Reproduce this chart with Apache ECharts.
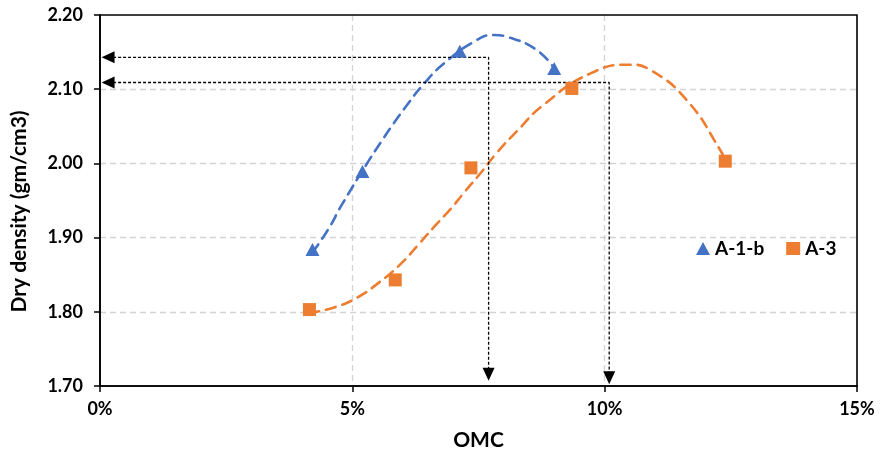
<!DOCTYPE html>
<html>
<head>
<meta charset="utf-8">
<script src="https://cdn.jsdelivr.net/npm/echarts@6/dist/echarts.min.js"></script>
<style>
html,body{margin:0;padding:0;background:#fff;}
#c{width:882px;height:458px;}
</style>
</head>
<body>
<div id="c"></div>
<script>
// ---- data ----
const seriesNames = ['A-1-b', 'A-3'];
// A-1-b measured points (OMC in %, dry density gm/cm3)
const omcA1b = [4.21, 5.20, 7.13, 9.00];
const densA1b = [1.884, 1.989, 2.151, 2.128];
// A-3 measured points
const omcA3 = [4.15, 5.85, 7.35, 9.35, 12.39];
const densA3 = [1.803, 1.843, 1.994, 2.101, 2.003];
// trend curves
const trendA1bX = [4.21, 4.53, 4.79, 5.32, 5.56, 5.83, 6.11, 6.39, 6.82, 7.46, 7.80, 8.09, 8.65, 9.00];
const trendA1bY = [1.880, 1.912, 1.944, 2.003, 2.028, 2.055, 2.081, 2.105, 2.135, 2.166, 2.173, 2.170, 2.153, 2.128];
const trendA3X = [4.15, 4.69, 5.09, 5.52, 5.95, 6.34, 6.64, 6.94, 7.23, 7.53, 7.86, 8.27, 8.79, 9.71, 10.50, 10.90, 11.63, 12.29, 12.39];
const trendA3Y = [1.798, 1.807, 1.819, 1.839, 1.864, 1.893, 1.916, 1.938, 1.962, 1.986, 2.014, 2.044, 2.079, 2.121, 2.133, 2.126, 2.085, 2.018, 2.003];
// optimum moisture content / max dry density read-offs (arrows)
const optOMC = [7.70, 10.09];
const maxDens = [2.143, 2.109];
const arrowLeftX = 0.16;           // OMC where the left-pointing arrowheads sit
const arrowDownY = [1.716, 1.711]; // density where the down-pointing arrowheads sit
// axis ticks
const xTicks = {min: 0, max: 15, step: 5};
const yTicks = {min: 1.70, max: 2.20, step: 0.10};

const pairs = (xs, ys) => xs.map((x, i) => [x, ys[i]]);

const FONT = 'Lato';
const blue = '#4472C4';
const orange = '#ED7D31';

const annoSeries = [];
optOMC.forEach((x, i) => {
  annoSeries.push({
    type: 'line',
    name: 'guide' + i,
    data: [[arrowLeftX, maxDens[i]], [x, maxDens[i]], [x, arrowDownY[i]]],
    symbol: 'none',
    lineStyle: {color: '#000', width: 1.3, type: [3, 2]},
    silent: true,
    z: 3
  });
});
const arrowData = [];
optOMC.forEach((x, i) => {
  arrowData.push({value: [arrowLeftX, maxDens[i]], symbolRotate: 90});
  arrowData.push({value: [x, arrowDownY[i]], symbolRotate: 180});
});

const chart = echarts.init(document.getElementById('c'));
chart.setOption({
  animation: false,
  backgroundColor: '#fff',
  grid: {left: 100, right: 25, top: 15, bottom: 72, show: true, borderColor: '#000', borderWidth: 1.6, z: 3},
  legend: {
    data: seriesNames,
    left: 691,
    top: 234,
    itemWidth: 14,
    itemHeight: 13,
    itemGap: 22,
    textStyle: {fontFamily: FONT, fontWeight: 'bold', fontSize: 19, color: '#000'}
  },
  xAxis: {
    type: 'value',
    min: xTicks.min, max: xTicks.max, interval: xTicks.step,
    name: 'OMC',
    nameLocation: 'middle',
    nameGap: 44,
    nameTextStyle: {fontFamily: FONT, fontWeight: 'bold', fontSize: 21, color: '#000'},
    axisLine: {lineStyle: {color: '#000', width: 1.6}},
    axisTick: {show: true, length: 6, lineStyle: {color: '#000', width: 1.5}},
    axisLabel: {formatter: '{value}%', fontFamily: FONT, fontWeight: 'bold', fontSize: 18, color: '#000', margin: 14},
    splitLine: {show: true, showMinLine: false, showMaxLine: false, lineStyle: {color: '#D3D3D3', width: 1.3, type: [6, 4]}}
  },
  yAxis: {
    type: 'value',
    min: yTicks.min, max: yTicks.max, interval: yTicks.step,
    name: 'Dry density (gm/cm3)',
    nameLocation: 'middle',
    nameRotate: 90,
    nameGap: 70,
    nameTextStyle: {fontFamily: FONT, fontWeight: 'bold', fontSize: 21, color: '#000', padding: [0, 22, 0, 0]},
    axisLine: {show: true, lineStyle: {color: '#000', width: 1.6}},
    axisTick: {show: true, length: 6, lineStyle: {color: '#000', width: 1.5}},
    axisLabel: {formatter: v => v.toFixed(2), fontFamily: FONT, fontWeight: 'bold', fontSize: 18, color: '#000', margin: 17},
    splitLine: {show: true, showMinLine: false, showMaxLine: false, lineStyle: {color: '#D3D3D3', width: 1.3, type: [6, 4]}}
  },
  series: [
    {
      type: 'line', name: 'trendA1b', data: pairs(trendA1bX, trendA1bY),
      smooth: 0.5, symbol: 'none', silent: true,
      lineStyle: {color: blue, width: 2.6, type: [10, 7], cap: 'round'}, z: 2
    },
    {
      type: 'line', name: 'trendA3', data: pairs(trendA3X, trendA3Y),
      smooth: 0.5, symbol: 'none', silent: true,
      lineStyle: {color: orange, width: 2.6, type: [10, 7], cap: 'round'}, z: 2
    },
    ...annoSeries,
    {
      type: 'scatter', name: 'arrows', data: arrowData,
      symbol: 'triangle', symbolSize: [12, 13],
      itemStyle: {color: '#000', opacity: 1}, silent: true, z: 4
    },
    {
      type: 'scatter', name: seriesNames[0], data: pairs(omcA1b, densA1b),
      symbol: 'triangle', symbolSize: [14, 13],
      itemStyle: {color: blue, opacity: 1}, z: 5
    },
    {
      type: 'scatter', name: seriesNames[1], data: pairs(omcA3, densA3),
      symbol: 'rect', symbolSize: 13,
      itemStyle: {color: orange, opacity: 1}, z: 5
    }
  ]
});
</script>
</body>
</html>
